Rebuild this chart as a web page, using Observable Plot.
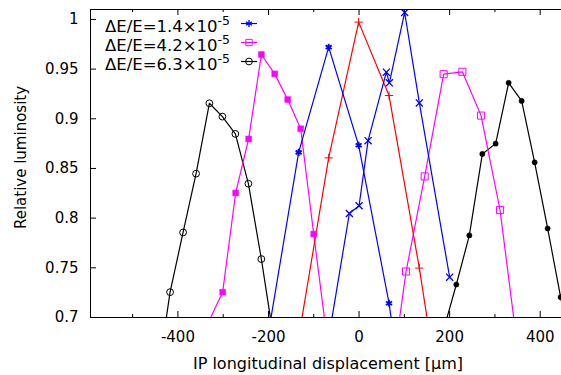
<!DOCTYPE html>
<html><head><meta charset="utf-8">
<script src="https://cdn.jsdelivr.net/npm/d3@7"></script>
<script src="https://cdn.jsdelivr.net/npm/@observablehq/plot@0.6"></script>
<style>html,body{margin:0;padding:0;background:#fff;} #chart{width:561px;height:375px;overflow:hidden;}</style>
</head><body><div id="chart"></div>
<script>
// ---- data ----
const blueLeftX  = [-199.5, -133.4, -67.1, -0.9, 66.2, 132.3];
const blueLeftY  = [0.686, 0.8662, 0.9721, 0.8733, 0.7144, 0.503];
const blueRightX = [-80, -21.4, 0, 19.9, 60.3, 66.9, 100.7, 133.1, 200];
const blueRightY = [0.644, 0.8047, 0.8125, 0.878, 0.9469, 0.9362, 1.007, 0.916, 0.7406];
const redX = [-133.3, -67.1, -0.9, 66.2, 133.1, 199.3];
const redY = [0.680, 0.8606, 0.9973, 0.9234, 0.7497, 0.555];
const magLeftX = [-335, -301.2, -272.5, -243.8, -215.7, -186.3, -157.6, -128.9, -100.2, -71.5];
const magLeftY = [0.693, 0.7255, 0.8253, 0.8797, 0.9647, 0.9452, 0.9194, 0.890, 0.784, 0.682];
const magRightX = [62.3, 103.8, 144.9, 186.8, 228.1, 269.4, 311.3, 352.8];
const magRightY = [0.610, 0.7463, 0.842, 0.9449, 0.9473, 0.9032, 0.8082, 0.659];
const blackLeftX = [-446, -417.3, -388.6, -359.9, -330.5, -301.8, -273.1, -244.4, -215.7, -187];
const blackLeftY = [0.636, 0.7255, 0.7856, 0.8448, 0.9156, 0.9022, 0.8848, 0.8347, 0.7588, 0.674];
const blackRightX = [186.1, 214.8, 243.5, 272.2, 301.6, 330.3, 359, 387.7, 416.4, 445.1, 473.8];
const blackRightY = [0.6867, 0.7332, 0.7826, 0.8646, 0.875, 0.9362, 0.918, 0.8562, 0.7896, 0.7205, 0.65];

const xDomain = [-593, 447];
const yDomain = [0.7, 1.01];
const xMajorTicks = [-400, -200, 0, 200, 400];
const xTickLabels = ["-400", "-200", "0", "200", "400"];
const xMinorTicks = [-500, -300, -100, 100, 300];
const yTicks = [0.7, 0.75, 0.8, 0.85, 0.9, 0.95, 1];
const yTickLabels = ["0.7", "0.75", "0.8", "0.85", "0.9", "0.95", "1"];
const legendMain = ["\u0394E/E=1.4\u00d710", "\u0394E/E=4.2\u00d710", "\u0394E/E=6.3\u00d710"];
const legendSup = ["-5", "-5", "-5"];
const xTitle = "IP longitudinal displacement [\u03bcm]";
const yTitle = "Relative luminosity";

// ---- layout ----
const W = 561, H = 375, mL = 90, mR = 0, mT = 9, mB = 58;
const fw = W - mL - mR, fh = H - mT - mB;
const BLUE = "#0000ff", MAG = "#ff00ff", RED = "#ff0000", BLK = "#000000";

const pts = (xs, ys) => xs.map((x, i) => ({x, y: ys[i]}));
const series = [
  {data: pts(blackLeftX, blackLeftY), color: BLK, symbol: "circle", fill: "none", r: 3.4, sw: 1},
  {data: pts(blackRightX, blackRightY), color: BLK, symbol: "circle", fill: BLK, r: 2.6, sw: 0.5},
  {data: pts(magLeftX, magLeftY), color: MAG, symbol: "square", fill: MAG, r: 3.3, sw: 0.5},
  {data: pts(magRightX, magRightY), color: MAG, symbol: "square", fill: "none", r: 4, sw: 1},
  {data: pts(redX, redY), color: RED, symbol: "plus", fill: "none", r: 2.8, sw: 1},
  {data: pts(blueLeftX, blueLeftY), color: BLUE, symbol: "asterisk", fill: "none", r: 3.3, sw: 1.8},
  {data: pts(blueRightX, blueRightY), color: BLUE, symbol: "times", fill: "none", r: 3.3, sw: 1.3}
];

const marks = [];
for (const s of series) {
  marks.push(Plot.line(s.data, {x: "x", y: "y", stroke: s.color, strokeWidth: 1.2, clip: true}));
}
for (const s of series) {
  marks.push(Plot.dot(s.data, {x: "x", y: "y", symbol: s.symbol, r: s.r, stroke: s.color,
    fill: s.fill, strokeWidth: s.sw, clip: true}));
}
// inward ticks
marks.push(Plot.ruleX(xMajorTicks, {insetTop: fh - 6, stroke: BLK}));
marks.push(Plot.ruleX(xMajorTicks, {insetBottom: fh - 6, stroke: BLK}));
marks.push(Plot.ruleX(xMinorTicks, {insetTop: fh - 3, stroke: BLK}));
marks.push(Plot.ruleX(xMinorTicks, {insetBottom: fh - 3, stroke: BLK}));
marks.push(Plot.ruleY(yTicks, {insetRight: fw - 6, stroke: BLK}));
// border (left, bottom, top)
marks.push(Plot.ruleX([xDomain[0]], {stroke: BLK}));
marks.push(Plot.ruleY([yDomain[0]], {stroke: BLK}));
marks.push(Plot.ruleY([yDomain[1]], {stroke: BLK}));
// tick labels
marks.push(Plot.axisX(xMajorTicks, {tickSize: 0, tickPadding: 13.5, label: null,
  tickFormat: d => xTickLabels[xMajorTicks.indexOf(d)], fontSize: 15, fill: BLK}));
marks.push(Plot.axisY(yTicks, {tickSize: 0, tickPadding: 12, label: null,
  tickFormat: d => yTickLabels[yTicks.indexOf(d)], fontSize: 15, fill: BLK}));

const plot = Plot.plot({
  width: W, height: H,
  marginLeft: mL, marginRight: mR, marginTop: mT, marginBottom: mB,
  x: {domain: xDomain},
  y: {domain: yDomain},
  style: {fontFamily: "'DejaVu Sans', sans-serif", fontSize: "15px", color: "#000", background: "#fff", overflow: "hidden"},
  marks
});
document.getElementById("chart").appendChild(plot);

// axis titles
const svg = d3.select(plot);
svg.append("text").attr("x", 328).attr("y", 369).attr("text-anchor", "middle")
  .attr("font-size", 16).attr("fill", BLK).text(xTitle);
svg.append("text").attr("transform", "translate(26,157.5) rotate(-90)").attr("text-anchor", "middle")
  .attr("font-size", 15).attr("fill", BLK).text(yTitle);

// legend (gnuplot-style key, top-left inside)
const legendStyles = [
  {color: BLUE, symbol: d3.symbolAsterisk, fill: "none", r: 3.3, sw: 1.3},
  {color: MAG, symbol: d3.symbolSquare2 || d3.symbolSquare, fill: "none", r: 4, sw: 1},
  {color: BLK, symbol: d3.symbolCircle, fill: "none", r: 3.4, sw: 1}
];
const key = svg.append("g");
legendMain.forEach((label, i) => {
  const yRow = 23.5 + 19 * i;
  const t = key.append("text").attr("x", 230).attr("y", yRow + 8.5).attr("text-anchor", "end")
    .attr("font-size", 16.5).attr("fill", BLK);
  t.append("tspan").text(label);
  t.append("tspan").attr("dy", -7.5).attr("font-size", 12.5).text(legendSup[i]);
  const st = legendStyles[i];
  key.append("line").attr("x1", 241).attr("x2", 257).attr("y1", yRow).attr("y2", yRow)
    .attr("stroke", st.color).attr("stroke-width", 1.2);
  key.append("path").attr("transform", `translate(249,${yRow})`)
    .attr("d", d3.symbol(st.symbol, Math.PI * st.r * st.r)())
    .attr("stroke", st.color).attr("fill", st.fill).attr("stroke-width", st.sw);
});
</script>
</body></html>
